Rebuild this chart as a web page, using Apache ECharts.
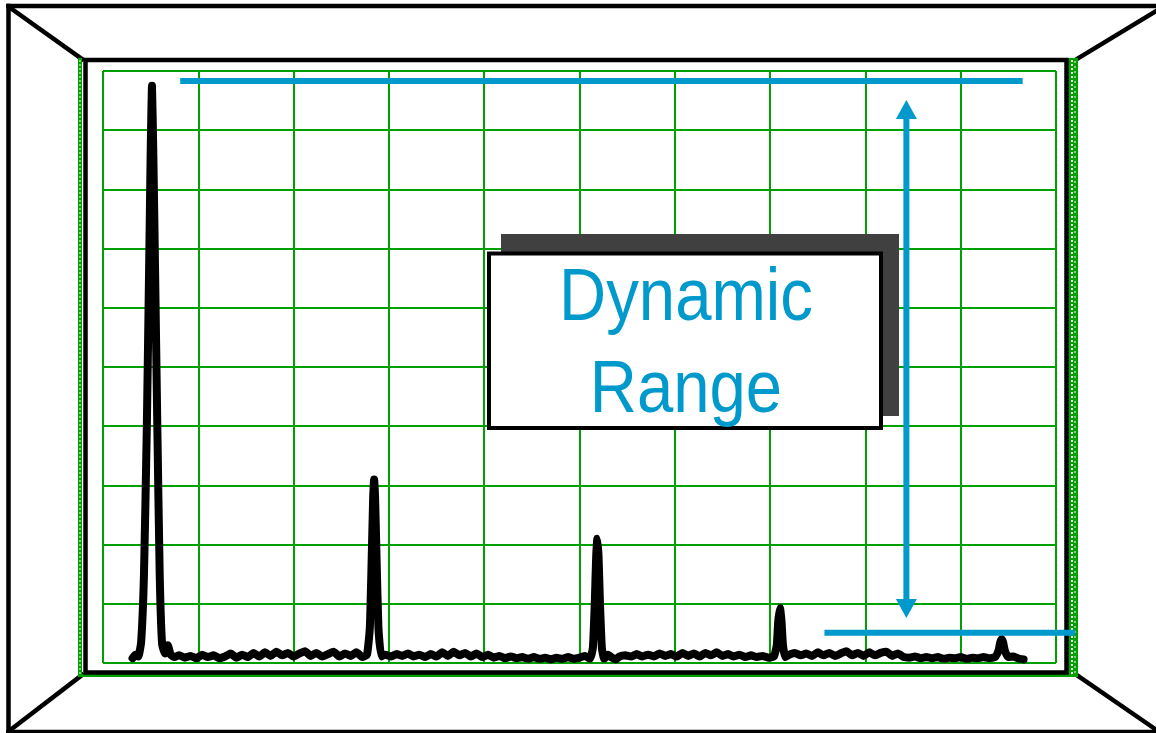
<!DOCTYPE html>
<html>
<head>
<meta charset="utf-8">
<script src="https://cdn.jsdelivr.net/npm/echarts@6/dist/echarts.min.js"></script>
<style>
  html, body { margin: 0; padding: 0; background: #ffffff; }
  #chart { width: 1156px; height: 733px; }
</style>
</head>
<body>
<div id="chart"></div>
<script>
// Screen scale: 10 horizontal divisions, 10 dB per vertical division.
const freqDivRange = [0, 10];
const levelDbRange = [-100, 0];

// Displayed spectrum trace: [horizontal division, level in dB]
const tracePoints = [
  [0.31,-99.2],[0.34,-98.6],[0.37,-98.9],[0.40,-96.5],[0.43,-85],[0.46,-60],[0.485,-32],[0.50,-14],
  [0.514,-2.5],[0.528,-14],[0.545,-32],[0.57,-60],[0.595,-85],[0.62,-96.8],[0.65,-98.4],[0.68,-97.0],
  [0.71,-98.6],[0.75,-99.0],[0.80,-98.7],[0.86,-99.1],[0.92,-98.8],[0.98,-99.2],[1.04,-98.6],[1.10,-99.0],
  [1.16,-98.7],[1.22,-99.2],[1.28,-98.9],[1.34,-98.4],[1.40,-99.1],[1.46,-98.6],[1.52,-99.0],[1.58,-98.3],
  [1.64,-98.9],[1.70,-98.2],[1.76,-98.8],[1.82,-98.1],[1.88,-98.7],[1.94,-98.3],[2.00,-98.9],[2.06,-98.4],
  [2.12,-98.0],[2.18,-98.8],[2.24,-98.3],[2.30,-98.9],[2.36,-98.5],[2.42,-98.1],[2.48,-98.9],[2.54,-98.4],
  [2.60,-98.8],[2.66,-98.2],[2.72,-99.0],
  [2.77,-98.6],[2.80,-94],[2.82,-82],[2.835,-72],[2.845,-69],[2.855,-72],[2.87,-82],[2.89,-94],[2.92,-98.9],
  [2.96,-98.6],[3.02,-98.9],[3.08,-98.5],[3.14,-98.8],[3.20,-98.4],[3.26,-98.9],[3.32,-98.6],[3.38,-99.0],
  [3.44,-98.5],[3.50,-98.9],[3.56,-98.2],[3.62,-98.8],[3.68,-98.1],[3.74,-98.7],[3.80,-98.3],[3.86,-98.9],
  [3.92,-98.4],[3.98,-99.0],[4.04,-98.6],[4.10,-99.1],[4.16,-98.8],[4.22,-99.2],[4.28,-98.9],[4.34,-99.2],
  [4.40,-99.0],[4.46,-99.3],[4.52,-99.0],[4.58,-99.3],[4.64,-99.1],[4.70,-99.4],[4.76,-99.1],[4.82,-99.3],
  [4.88,-99.0],[4.94,-99.3],[5.00,-99.1],[5.06,-98.8],[5.11,-99.3],
  [5.14,-97.5],[5.16,-90],[5.175,-82],[5.187,-79],[5.20,-82],[5.215,-90],[5.235,-97.5],[5.26,-99.3],
  [5.30,-98.6],[5.34,-99.1],[5.38,-99.4],[5.42,-98.9],[5.48,-98.7],[5.54,-98.9],[5.60,-98.5],[5.66,-98.9],
  [5.72,-98.6],[5.78,-98.9],[5.84,-98.4],[5.90,-98.8],[5.96,-98.5],[6.02,-98.9],[6.08,-98.3],[6.14,-98.8],
  [6.20,-98.4],[6.26,-98.9],[6.32,-98.3],[6.38,-98.7],[6.44,-98.2],[6.50,-98.8],[6.56,-98.5],[6.62,-98.9],
  [6.68,-98.6],[6.74,-99.0],[6.80,-98.7],[6.86,-99.0],[6.92,-98.8],[6.98,-99.1],[7.04,-98.9],
  [7.07,-97],[7.085,-93],[7.104,-90.7],[7.12,-93],[7.135,-97],[7.16,-99.0],
  [7.20,-98.6],[7.26,-98.3],[7.32,-98.7],[7.38,-98.4],[7.44,-98.8],[7.50,-98.2],[7.56,-98.7],[7.62,-98.3],
  [7.68,-98.8],[7.74,-98.4],[7.80,-98.0],[7.86,-98.7],[7.92,-98.3],[7.98,-98.8],[8.04,-98.2],[8.10,-98.7],
  [8.16,-98.3],[8.22,-98.1],[8.28,-98.8],[8.34,-98.4],[8.40,-99.0],[8.46,-99.1],[8.52,-98.9],[8.58,-99.2],
  [8.64,-99.0],[8.70,-99.2],[8.76,-99.0],[8.82,-99.3],[8.88,-99.1],[8.94,-99.2],[9.00,-99.0],[9.06,-99.3],
  [9.12,-99.1],[9.18,-99.2],[9.24,-99.0],[9.30,-99.2],[9.36,-99.0],
  [9.395,-98],[9.415,-96.5],[9.43,-96],[9.445,-96.5],[9.465,-98],
  [9.50,-99.0],[9.55,-98.9],[9.60,-99.2],[9.66,-99.4]
];

// Reference levels: [start division, end division, level dB]
const maxSignalRef = [0.81, 9.65, -1.7];
const minSignalRef = [7.57, 10.2, -94.9];

// Dynamic range arrow: [division, upper level dB, lower level dB]
const rangeArrow = [8.43, -4.9, -92.4];

const calloutLines = ['Dynamic', 'Range'];

const GRID_GREEN = '#00a000';
const REF_BLUE = '#0099cc';
const CALLOUT_FONT = '75px "Liberation Sans", Arial, sans-serif';

const chart = echarts.init(document.getElementById('chart'), null, { renderer: 'canvas' });

function refLineItem(params, api) {
  const a = api.coord([api.value(0), api.value(2)]);
  const b = api.coord([api.value(1), api.value(2)]);
  return {
    type: 'line',
    shape: { x1: a[0], y1: a[1], x2: b[0], y2: b[1] },
    style: { stroke: REF_BLUE, lineWidth: 6 }
  };
}

function arrowItem(params, api) {
  const top = api.coord([api.value(0), api.value(1)]);
  const bot = api.coord([api.value(0), api.value(2)]);
  const x = top[0];
  const headH = 19, headW = 10.5;
  return {
    type: 'group',
    children: [
      { type: 'line', shape: { x1: x, y1: top[1] + headH - 1, x2: x, y2: bot[1] - headH + 1 },
        style: { stroke: REF_BLUE, lineWidth: 6 } },
      { type: 'polygon', shape: { points: [[x, top[1]], [x - headW, top[1] + headH], [x + headW, top[1] + headH]] },
        style: { fill: REF_BLUE } },
      { type: 'polygon', shape: { points: [[x, bot[1]], [x - headW, bot[1] - headH], [x + headW, bot[1] - headH]] },
        style: { fill: REF_BLUE } }
    ]
  };
}

const BLACK = '#000000';
function seg(x1, y1, x2, y2, w, color) {
  return { type: 'line', silent: true, z: 1,
    shape: { x1, y1, x2, y2 }, style: { stroke: color || BLACK, lineWidth: w, lineCap: 'square' } };
}

const option = {
  animation: false,
  backgroundColor: '#ffffff',
  grid: { left: 103, top: 71, right: 100, bottom: 70, show: false },
  xAxis: {
    type: 'value', min: freqDivRange[0], max: freqDivRange[1], interval: 1,
    axisLine: { show: false }, axisTick: { show: false }, axisLabel: { show: false },
    splitLine: { show: true, lineStyle: { color: GRID_GREEN, width: 2 } }
  },
  yAxis: {
    type: 'value', min: levelDbRange[0], max: levelDbRange[1], interval: 10,
    axisLine: { show: false }, axisTick: { show: false }, axisLabel: { show: false },
    splitLine: { show: true, lineStyle: { color: GRID_GREEN, width: 2 } }
  },
  graphic: [
    // instrument bezel
    seg(8.5, 6, 1160, 6, 4.5),
    seg(8.5, 6, 8.5, 740, 4.5),
    seg(8.5, 732, 1160, 732, 4.5),
    seg(9, 7, 82, 59, 4.5),
    seg(1158, 10, 1077, 59, 4.5),
    seg(9, 731, 82, 675, 4.5),
    seg(1158, 731, 1078, 676, 4.5),
    // screen surround
    { type: 'rect', silent: true, z: 1, shape: { x: 78, y: 58, width: 4, height: 619 }, style: { fill: '#00a000' } },
    { type: 'line', silent: true, z: 2, shape: { x1: 80, y1: 60, x2: 80, y2: 674 },
      style: { stroke: '#ffffff', lineWidth: 1, lineDash: [2, 2] } },
    { type: 'rect', silent: true, z: 1, shape: { x: 78, y: 674, width: 1000, height: 3 }, style: { fill: '#00a000' } },
    { type: 'rect', silent: true, z: 1, shape: { x: 1068, y: 58, width: 10, height: 619 }, style: { fill: '#00a000' } },
    { type: 'line', silent: true, z: 2, shape: { x1: 1072, y1: 60, x2: 1072, y2: 674 },
      style: { stroke: '#ffffff', lineWidth: 2, lineDash: [2, 2] } },
    { type: 'line', silent: true, z: 2, shape: { x1: 1075, y1: 61, x2: 1075, y2: 674 },
      style: { stroke: '#ffffff', lineWidth: 1, lineDash: [2, 3] } },
    { type: 'rect', silent: true, z: 3, shape: { x: 85.5, y: 60, width: 981, height: 612.5 },
      style: { fill: null, stroke: BLACK, lineWidth: 4.5 } },
    // callout box with offset shadow
    { type: 'rect', silent: true, z: 20, shape: { x: 501, y: 234, width: 398, height: 182 },
      style: { fill: '#404040' } },
    { type: 'rect', silent: true, z: 21, shape: { x: 489, y: 253.5, width: 392, height: 174.5 },
      style: { fill: '#ffffff', stroke: BLACK, lineWidth: 4 } },
    { type: 'text', silent: true, z: 22, x: 686, y: 299, scaleX: 0.87,
      style: { text: calloutLines[0], fill: REF_BLUE, align: 'center', verticalAlign: 'middle', font: CALLOUT_FONT } },
    { type: 'text', silent: true, z: 22, x: 686, y: 391, scaleX: 0.87,
      style: { text: calloutLines[1], fill: REF_BLUE, align: 'center', verticalAlign: 'middle', font: CALLOUT_FONT } }
  ],
  series: [
    {
      name: 'Spectrum',
      type: 'line',
      data: tracePoints,
      showSymbol: false,
      smooth: 0.15,
      clip: false,
      z: 5,
      lineStyle: { color: BLACK, width: 8, cap: 'round', join: 'round' }
    },
    {
      name: 'Reference levels',
      type: 'custom',
      renderItem: refLineItem,
      clip: false,
      z: 6,
      data: [maxSignalRef, minSignalRef]
    },
    {
      name: 'Dynamic range',
      type: 'custom',
      renderItem: arrowItem,
      clip: false,
      z: 6,
      data: [rangeArrow]
    }
  ]
};

chart.setOption(option);
</script>
</body>
</html>
